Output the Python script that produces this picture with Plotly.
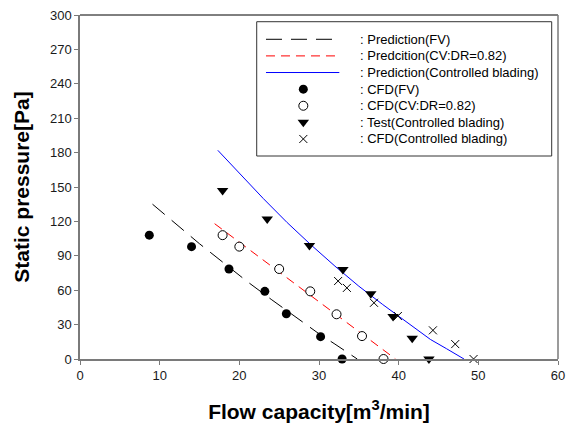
import plotly.graph_objects as go

# ---- data ----
pred_fv_x = [9.1, 12, 15, 18, 21, 24, 27, 30, 32, 33.5, 34.8]
pred_fv_y = [135, 118, 100.5, 84, 67.5, 52, 37, 22, 13, 6, 0]

pred_cv_x = [16.9, 20, 23, 26, 29, 32, 35, 38, 39.6]
pred_cv_y = [118, 102, 86.5, 71, 55.5, 40, 24.5, 8.5, 0]

pred_cb_x = [17.3, 20, 23, 26, 29, 32, 35, 38, 41, 44, 46, 48.2]
pred_cb_y = [182, 162, 140, 119, 99.5, 81, 63.5, 47.5, 32, 17, 9, 0]

cfd_fv_x = [8.7, 14.0, 18.7, 23.2, 25.9, 30.2, 32.9]
cfd_fv_y = [108, 98, 78.5, 59, 39.5, 19.5, 0]

cfd_cv_x = [17.9, 20.0, 25.0, 28.9, 32.2, 35.4, 38.1]
cfd_cv_y = [108, 98, 78.5, 59, 39, 20, 0]

test_cb_x = [17.9, 23.5, 28.8, 33.0, 36.5, 39.3, 41.7, 43.8]
test_cb_y = [147, 122, 99, 78, 57, 37, 18, 0]

cfd_cb_x = [32.4, 33.5, 36.9, 39.9, 44.3, 47.1, 49.4]
cfd_cb_y = [68, 62, 49, 37.5, 25, 13, 0]

legend_labels = [
    ": Prediction(FV)",
    ": Predcition(CV:DR=0.82)",
    ": Prediction(Controlled blading)",
    ": CFD(FV)",
    ": CFD(CV:DR=0.82)",
    ": Test(Controlled blading)",
    ": CFD(Controlled blading)",
]

x_ticks = [0, 10, 20, 30, 40, 50, 60]
y_ticks = [0, 30, 60, 90, 120, 150, 180, 210, 240, 270, 300]

FONT = "Arial, Liberation Sans, sans-serif"
AX = "#7a7a7a"

fv_line = dict(color="black", width=1, dash="16px,9px")
cv_line = dict(color="#ff0000", width=1, dash="9px,6px")
cb_line = dict(color="#0000ff", width=1)

m_fv = dict(symbol="circle", size=9, color="black", line=dict(width=0))
m_cv = dict(symbol="circle", size=9, color="white", line=dict(color="black", width=1))
m_test = dict(symbol="triangle-down", size=10, color="black", line=dict(width=0))
m_cb = dict(symbol="x-thin-open", size=8, color="black", line=dict(color="black", width=1))

fig = go.Figure()
fig.add_trace(go.Scatter(x=pred_fv_x, y=pred_fv_y, mode="lines", line=fv_line, showlegend=False))
fig.add_trace(go.Scatter(x=pred_cv_x, y=pred_cv_y, mode="lines", line=cv_line, showlegend=False))
fig.add_trace(go.Scatter(x=pred_cb_x, y=pred_cb_y, mode="lines", line=cb_line, showlegend=False))
fig.add_trace(go.Scatter(x=cfd_fv_x, y=cfd_fv_y, mode="markers", marker=m_fv, showlegend=False, cliponaxis=False))
fig.add_trace(go.Scatter(x=cfd_cv_x, y=cfd_cv_y, mode="markers", marker=m_cv, showlegend=False, cliponaxis=False))
fig.add_trace(go.Scatter(x=test_cb_x, y=test_cb_y, mode="markers", marker=m_test, showlegend=False, cliponaxis=False))
fig.add_trace(go.Scatter(x=cfd_cb_x, y=cfd_cb_y, mode="markers", marker=m_cb, showlegend=False, cliponaxis=False))

# ---- hand-built legend (box, sample lines, sample markers, texts) ----
box_x0, box_x1, box_y0, box_y1 = 0.3697, 0.9868, 0.5901, 0.9805
row_top, row_step = 0.9294, 0.0483
rows = [row_top - i * row_step for i in range(len(legend_labels))]
line_x0, line_x1, mark_x, text_x = 0.3891, 0.5425, 0.4672, 0.5822

shapes = [
    dict(type="rect", xref="paper", yref="paper", x0=box_x0, x1=box_x1, y0=box_y0, y1=box_y1,
         line=dict(color="#333333", width=1), fillcolor="white", layer="below"),
    # top (black) and right (gray) frame lines
    dict(type="line", xref="paper", yref="paper", x0=0, x1=1, y0=1, y1=1,
         line=dict(color="black", width=1)),
    dict(type="line", xref="paper", yref="paper", x0=1, x1=1, y0=0, y1=1,
         line=dict(color=AX, width=1.5)),
]
for ln, ry in zip([fv_line, cv_line, cb_line], rows[:3]):
    shapes.append(dict(type="line", xref="paper", yref="paper", x0=line_x0, x1=line_x1,
                       y0=ry, y1=ry, line=ln))

for mk, ry in zip([m_fv, m_cv, m_test, m_cb], rows[3:]):
    fig.add_trace(go.Scatter(x=[mark_x], y=[ry], mode="markers", marker=mk,
                             xaxis="x2", yaxis="y2", showlegend=False, hoverinfo="skip"))

annotations = [
    dict(text=t, xref="paper", yref="paper", x=text_x, y=ry, xanchor="left", yanchor="middle",
         showarrow=False, font=dict(family=FONT, size=13, color="black"))
    for t, ry in zip(legend_labels, rows)
]

fig.update_layout(
    width=573, height=427,
    margin=dict(l=80, r=15, t=15, b=68, autoexpand=False),
    paper_bgcolor="white", plot_bgcolor="white",
    font=dict(family=FONT, size=13, color="#1a1a1a"),
    shapes=shapes, annotations=annotations,
    xaxis=dict(range=[0, 60], tickvals=x_ticks, showgrid=False, zeroline=False, automargin=False,
               showline=True, linecolor=AX, linewidth=1.5, ticks="outside", ticklen=4,
               tickcolor=AX, tickwidth=1,
               title=dict(text="<b>Flow capacity[m<sup>3</sup>/min]</b>",
                          font=dict(family=FONT, size=21, color="black"), standoff=22)),
    yaxis=dict(range=[0, 300], tickvals=y_ticks, showgrid=False, zeroline=False, automargin=False,
               showline=True, linecolor=AX, linewidth=1.5, ticks="outside", ticklen=4,
               tickcolor=AX, tickwidth=1,
               title=dict(text="<b>Static pressure[Pa]</b>",
                          font=dict(family=FONT, size=21, color="black"), standoff=15)),
    xaxis2=dict(overlaying="x", anchor="y2", range=[0, 1], visible=False),
    yaxis2=dict(overlaying="y", anchor="x2", range=[0, 1], visible=False),
)

fig.write_html("out.html", config={"displayModeBar": False},
               post_script="document.body.style.margin='0px';")
